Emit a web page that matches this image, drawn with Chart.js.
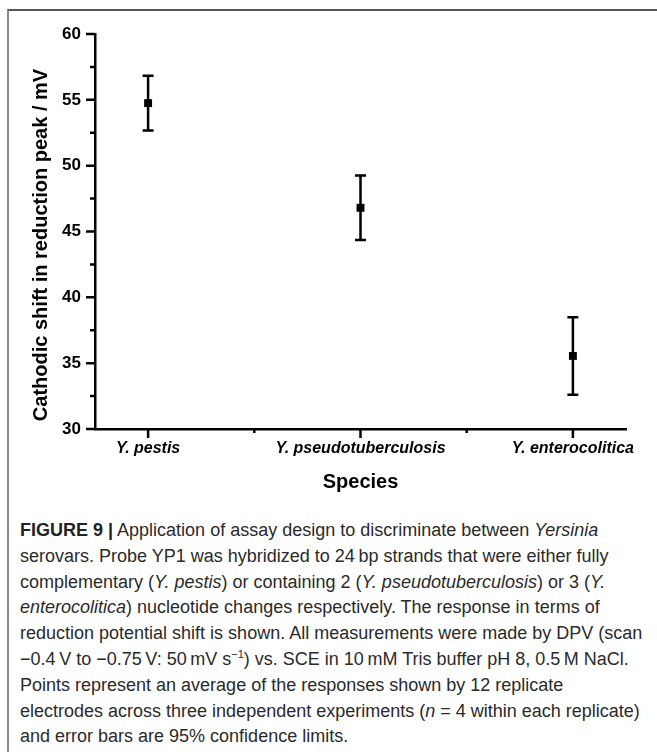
<!DOCTYPE html>
<html>
<head>
<meta charset="utf-8">
<script src="https://cdn.jsdelivr.net/npm/chart.js@4"></script>
<style>
  html, body { margin: 0; padding: 0; background: #fff; }
  body { width: 657px; height: 752px; position: relative; overflow: hidden; }
  #frame {
    position: absolute; left: 7px; top: 9px; right: -10px; bottom: -10px;
    border-left: 2px solid #8a8a8a; border-top: 2px solid #555;
  }
  #chartBox { position: absolute; left: 0; top: 0; width: 657px; height: 500px; }
  #caption {
    position: absolute; left: 20px; top: 518px;
    font-family: "Liberation Sans", Arial, sans-serif;
    font-size: 18px; line-height: 25.8px; color: #2a2a2a;
    white-space: nowrap;
  }
  #caption b { color: #222; }
  #caption sup { font-size: 11px; line-height: 0; vertical-align: 7px; }
</style>
</head>
<body>
<div id="frame"></div>
<div id="chartBox"><canvas id="chart" width="657" height="500"></canvas></div>
<div id="caption">
<b>FIGURE 9 |</b> Application of assay design to discriminate between <i>Yersinia</i><br>
serovars. Probe YP1 was hybridized to 24&#8201;bp strands that were either fully<br>
complementary (<i>Y. pestis</i>) or containing 2 (<i>Y. pseudotuberculosis</i>) or 3 (<i>Y.</i><br>
<i>enterocolitica</i>) nucleotide changes respectively. The response in terms of<br>
reduction potential shift is shown. All measurements were made by DPV (scan<br>
&minus;0.4&#8201;V to &minus;0.75&#8201;V: 50&#8201;mV s<sup>&minus;1</sup>) vs. SCE in 10&#8201;mM Tris buffer pH 8, 0.5&#8201;M NaCl.<br>
Points represent an average of the responses shown by 12 replicate<br>
electrodes across three independent experiments (<i>n</i> = 4 within each replicate)<br>
and error bars are 95% confidence limits.
</div>
<script>
// Chart data
const species = ["Y. pestis", "Y. pseudotuberculosis", "Y. enterocolitica"];
const shiftMean = [54.75, 46.8, 35.55];
const shiftCI = [2.07, 2.45, 2.94];
const yTicks = [30, 35, 40, 45, 50, 55, 60];
const yTitle = "Cathodic shift in reduction peak / mV";

// Draw the error bars, axis tick marks (major + minor) and the y title.
const errorBarsAndTicks = {
  id: 'errorBarsAndTicks',
  beforeDatasetsDraw(chart) {
    const ctx = chart.ctx;
    const xs = chart.scales.x, ys = chart.scales.y;
    ctx.save();
    ctx.strokeStyle = '#000';
    ctx.lineWidth = 2.5;
    shiftMean.forEach((m, i) => {
      const x = xs.getPixelForValue(i);
      const yTop = ys.getPixelForValue(m + shiftCI[i]);
      const yBot = ys.getPixelForValue(m - shiftCI[i]);
      ctx.beginPath();
      ctx.moveTo(x, yTop); ctx.lineTo(x, yBot);
      ctx.moveTo(x - 5.5, yTop); ctx.lineTo(x + 5.5, yTop);
      ctx.moveTo(x - 5.5, yBot); ctx.lineTo(x + 5.5, yBot);
      ctx.stroke();
    });
    ctx.restore();
  },
  afterDraw(chart) {
    const ctx = chart.ctx;
    const xs = chart.scales.x, ys = chart.scales.y;
    const area = chart.chartArea;
    ctx.save();
    ctx.strokeStyle = '#000';
    ctx.lineWidth = 2.5;
    ctx.beginPath();
    // y ticks, every 2.5 units
    for (let v = ys.min; v <= ys.max + 0.001; v += 2.5) {
      const y = ys.getPixelForValue(v);
      const len = (v % 5 === 0) ? 9 : 5;
      ctx.moveTo(area.left, y); ctx.lineTo(area.left - len, y);
    }
    // x ticks, on each category and halfway between
    for (let v = 0; v <= species.length - 1 + 0.001; v += 0.5) {
      const x = xs.getPixelForValue(v);
      const len = Number.isInteger(v) ? 9 : 4;
      ctx.moveTo(x, area.bottom); ctx.lineTo(x, area.bottom + len);
    }
    ctx.stroke();

    // y title sits a little below the middle of the axis in the original
    ctx.translate(41, 245);
    ctx.rotate(-Math.PI / 2);
    ctx.font = 'bold 20px "Liberation Sans"';
    ctx.fillStyle = '#000';
    ctx.textAlign = 'center';
    ctx.textBaseline = 'middle';
    ctx.fillText(yTitle, 0, 0);
    ctx.restore();
  }
};

const ctx = document.getElementById('chart').getContext('2d');
new Chart(ctx, {
  type: 'scatter',
  data: {
    datasets: [{
      label: 'Cathodic shift',
      data: shiftMean.map((m, i) => ({ x: i, y: m })),
      pointStyle: 'rect',
      pointRadius: 5.6,
      pointHoverRadius: 5.6,
      backgroundColor: '#000',
      borderColor: '#000',
      borderWidth: 0
    }]
  },
  options: {
    responsive: false,
    animation: false,
    devicePixelRatio: 1,
    layout: { padding: { top: 34, right: 31, left: 0, bottom: 0 } },
    plugins: {
      legend: { display: false },
      tooltip: { enabled: false }
    },
    scales: {
      x: {
        type: 'linear',
        min: -0.25,
        max: 2.25,
        afterBuildTicks: (scale) => { scale.ticks = species.map((s, i) => ({ value: i })); },
        afterFit: (scale) => { scale.height = 71; },
        grid: { display: false, drawTicks: false, tickLength: 0 },
        border: { display: true, color: '#000', width: 2.5 },
        ticks: {
          autoSkip: false,
          maxRotation: 0,
          padding: 10,
          color: '#000',
          font: { family: 'Liberation Sans', size: 16, weight: 'bold', style: 'italic' },
          callback: (value) => species[value]
        },
        title: {
          display: true,
          text: 'Species',
          color: '#000',
          font: { family: 'Liberation Sans', size: 20, weight: 'bold' },
          padding: { top: 0, bottom: 6 }
        }
      },
      y: {
        min: 30,
        max: 60,
        afterBuildTicks: (scale) => { scale.ticks = yTicks.map(v => ({ value: v })); },
        afterFit: (scale) => { scale.width = 95; },
        grid: { display: false, drawTicks: false, tickLength: 0 },
        border: { display: true, color: '#000', width: 2.5 },
        ticks: {
          padding: 14,
          color: '#000',
          font: { family: 'Liberation Sans', size: 17, weight: 'bold' }
        },
        title: { display: false }
      }
    }
  },
  plugins: [errorBarsAndTicks]
});
</script>
</body>
</html>
